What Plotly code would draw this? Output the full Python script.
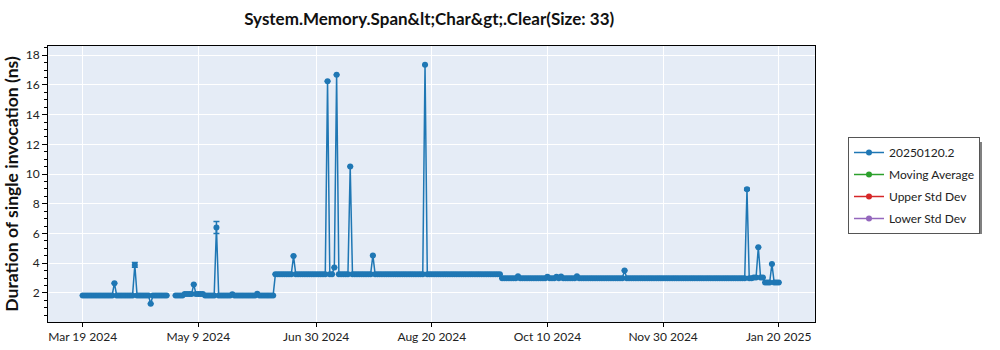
import pandas as pd
import plotly.graph_objects as go

# ---- data ----
# baseline levels: (first date, last date, level in ns)
seg_first = ["2024-03-19", "2024-04-29", "2024-05-03", "2024-05-12", "2024-06-12",
             "2024-09-20", "2025-01-09", "2025-01-14"]
seg_last = ["2024-04-25", "2024-05-02", "2024-05-11", "2024-06-11", "2024-09-19",
            "2025-01-08", "2025-01-13", "2025-01-20"]
seg_level = [1.83, 1.83, 1.92, 1.83, 3.25, 2.98, 3.04, 2.70]

# individual runs that deviate from the baseline
spike_dates = ["2024-04-02", "2024-04-11", "2024-04-18", "2024-05-07", "2024-05-17",
               "2024-05-24", "2024-06-04", "2024-06-20", "2024-07-05", "2024-07-08",
               "2024-07-09", "2024-07-15", "2024-07-25", "2024-08-17", "2024-09-27",
               "2024-10-10", "2024-10-14", "2024-10-16", "2024-10-23", "2024-11-13",
               "2025-01-06", "2025-01-11", "2025-01-17"]
spike_values = [2.65, 3.88, 1.27, 2.56, 6.40,
                1.90, 1.95, 4.48, 16.25, 3.71,
                16.68, 10.50, 4.52, 17.35, 3.12,
                3.08, 3.08, 3.10, 3.12, 3.50,
                8.98, 5.07, 3.95]
spike_errors = [None, 0.16, None, None, 0.40,
                None, None, None, None, None,
                None, None, None, None, None,
                None, None, None, None, None,
                0.07, None, None]
missing_dates = ["2024-04-27"]

series_name = "20250120.2"
legend_names = ["Moving Average", "Upper Std Dev", "Lower Std Dev"]
legend_colors = ["#2ca02c", "#d62728", "#9467bd"]
tick_dates = ["2024-03-19", "2024-05-09", "2024-06-30", "2024-08-20",
              "2024-10-10", "2024-11-30", "2025-01-20"]
title_text = "System.Memory.Span&amp;lt;Char&amp;gt;.Clear(Size: 33)"
y_title = "Duration of single invocation (ns)"

# ---- build daily series ----
vals = {}
errs = {}
for a, b, lv in zip(seg_first, seg_last, seg_level):
    for d in pd.date_range(a, b, freq="D"):
        vals[d] = lv
for d, v, e in zip(spike_dates, spike_values, spike_errors):
    vals[pd.Timestamp(d)] = v
    errs[pd.Timestamp(d)] = e
for d in missing_dates:
    vals[pd.Timestamp(d)] = None
dates = sorted(vals)
y = [vals[d] for d in dates]
err = [errs.get(d) for d in dates]

FONT = "Lato, 'Open Sans', sans-serif"
BLUE = "#1f77b4"

fig = go.Figure()
fig.add_trace(go.Scatter(
    x=dates, y=y, name=series_name, mode="lines+markers",
    connectgaps=False, legendgroup=series_name,
    line=dict(color=BLUE, width=1.5),
    marker=dict(color=BLUE, size=6),
    error_y=dict(type="data", array=err, visible=True, color=BLUE,
                 thickness=1.5, width=3),
))
# statistic series have no drawn values in the reference, only legend entries
for nm, col in zip(legend_names, legend_colors):
    fig.add_trace(go.Scatter(x=[None], y=[None], name=nm, mode="lines+markers",
                             line=dict(color=col, width=1.5),
                             marker=dict(color=col, size=6), legendgroup=nm))

L, R, T, B = 48, 185, 46, 28
W, H = 1000, 350
pw, ph = W - L - R, H - T - B

def px_x(p):
    return (p - L) / pw

def px_y(p):
    return (H - B - p) / ph

# legend drop shadow
fig.add_shape(type="rect", xref="paper", yref="paper",
              x0=px_x(853), x1=px_x(982), y0=px_y(234), y1=px_y(142),
              fillcolor="#808080", line=dict(width=0), layer="above")

fig.update_layout(
    width=W, height=H,
    margin=dict(l=L, r=R, t=T, b=B, autoexpand=False),
    paper_bgcolor="white",
    plot_bgcolor="#e5ecf6",
    font=dict(family=FONT, size=12, color="#222222"),
    title=dict(text=title_text, x=0.497, xref="paper", xanchor="center",
               y=1 - 19 / H, yref="container", yanchor="middle",
               font=dict(family=FONT, size=17, color="#111111", weight="bold")),
    legend=dict(x=px_x(848), y=px_y(137), xanchor="left", yanchor="top",
                bgcolor="white", bordercolor="#555555", borderwidth=1,
                font=dict(family=FONT, size=12, color="#222222"),
                tracegroupgap=3, traceorder="grouped"),
    showlegend=True,
)
fig.update_xaxes(
    type="date", range=["2024-03-03 17:00", "2025-02-05"],
    tickvals=tick_dates, tickformat="%b %-d %Y",
    showgrid=True, gridcolor="white", gridwidth=1,
    showline=True, linecolor="black", linewidth=1, mirror=True,
    ticks="outside", ticklen=4, tickcolor="black", zeroline=False,
    automargin=False,
)
fig.update_yaxes(
    range=[0.04, 18.62], dtick=2, tick0=0,
    showgrid=True, gridcolor="white", gridwidth=1,
    showline=True, linecolor="black", linewidth=1, mirror=True,
    ticks="outside", ticklen=5, tickcolor="black", zeroline=False,
    minor=dict(dtick=0.5, ticks="outside", ticklen=3, tickcolor="black", showgrid=False),
    automargin=False,
    title=dict(text=y_title, standoff=2,
               font=dict(family=FONT, size=17.5, color="#111111", weight="bold")),
)

fig.write_html("out.html")
